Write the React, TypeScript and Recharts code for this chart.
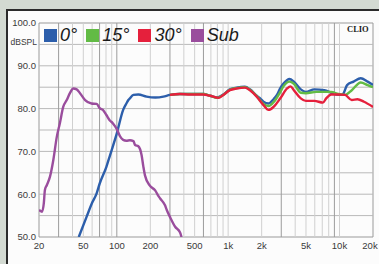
import {
  LineChart,
  Line,
  XAxis,
  YAxis,
  ReferenceLine,
  ReferenceArea,
} from "recharts";

// frequency response readings (Hz / dBSPL)
const subFreq = [20, 21.3, 22.1, 22.6, 23.5, 25.1, 26.9, 28.9, 30.8, 33, 35.5, 37.9, 40.6, 43.6, 46.7, 51.9, 59.2, 65.9, 70.2, 75, 80.6, 86.2, 92, 100, 107, 114, 122, 131, 141, 146, 156, 167, 173, 179, 198, 221, 236, 245, 271, 281, 300, 334, 369, 381];
const subDb = [56.3, 55.9, 57.9, 61.0, 62.1, 64.1, 68.0, 73.4, 76.6, 80.4, 82.0, 83.6, 84.7, 84.5, 83.6, 82.0, 81.2, 81.1, 80.1, 79.7, 78.5, 77.3, 76.6, 75.2, 73.5, 72.7, 72.5, 72.6, 72.4, 71.5, 71.2, 69.1, 66.5, 64.4, 62.0, 60.9, 59.6, 59.0, 57.4, 56.3, 54.7, 52.4, 51.1, 50.0];

const deg0Freq = [45.5, 53.5, 60, 65.9, 70.2, 80.6, 86.2, 100, 114, 122, 127, 131, 141, 156, 185, 222, 262, 300, 369, 451, 556, 600, 688, 793, 904, 1037, 1192, 1414, 1570, 1805, 1938, 2076, 2305, 2558, 2743, 2942, 3157, 3550, 3893, 4491, 4993, 5950, 7330, 8440, 9750, 10400, 10900, 11700, 13400, 15500, 17900, 20000];
const deg0Db = [50, 54.7, 58.0, 60.2, 62.5, 66.4, 68.8, 74.2, 79.7, 81.2, 82.0, 82.4, 83.2, 83.3, 82.8, 82.6, 82.8, 83.2, 83.4, 83.4, 83.4, 83.4, 83.0, 82.6, 83.3, 84.5, 84.9, 85.1, 84.5, 83.0, 82.4, 81.6, 81.2, 82.2, 83.2, 84.8, 85.9, 86.9, 86.3, 84.5, 83.9, 84.5, 84.3, 83.7, 83.2, 83.2, 83.6, 85.5, 86.3, 87.1, 86.3, 85.5];

const deg15Freq = [300, 369, 451, 556, 600, 688, 793, 904, 1037, 1192, 1414, 1570, 1805, 2076, 2305, 2558, 2942, 3157, 3550, 3893, 4491, 4993, 6200, 8440, 9750, 11200, 12900, 15500, 17900, 20000];
const deg15Db = [83.2, 83.4, 83.4, 83.4, 83.4, 83.0, 82.5, 83.2, 84.4, 84.8, 85.0, 84.4, 82.9, 81.1, 80.6, 81.5, 83.9, 85.3, 86.3, 85.8, 83.7, 83.6, 83.9, 83.9, 83.4, 83.2, 84.3, 86.1, 85.5, 85.0];

const deg30Freq = [300, 369, 455, 599, 688, 819, 904, 1037, 1192, 1414, 1570, 1805, 2076, 2305, 2558, 2942, 3383, 3634, 3893, 4491, 4993, 5950, 7100, 7600, 8440, 9750, 11200, 12900, 14500, 16600, 20000];
const deg30Db = [83.2, 83.4, 83.3, 83.3, 83.0, 82.5, 83.2, 84.3, 84.7, 84.9, 84.3, 82.8, 80.8, 79.7, 80.4, 82.4, 84.7, 85.2, 84.3, 82.4, 81.8, 81.8, 81.4, 82.4, 83.3, 83.3, 83.2, 82.0, 82.2, 81.6, 80.4];

const xTicks = [20, 50, 100, 200, 500, 1000, 2000, 5000, 10000, 20000];
const yTicks = [50, 60, 70, 80, 90, 100];
const yGrid = [55, 60, 65, 70, 75, 80, 85, 90, 95];
const yMinor = [51, 52, 53, 54, 56, 57, 58, 59, 61, 62, 63, 64, 66, 67, 68, 69, 71, 72, 73, 74, 76, 77, 78, 79, 81, 82, 83, 84, 86, 87, 88, 89, 91, 92, 93, 94, 96, 97, 98, 99];
const xGridLight = [40, 50, 60, 80, 90, 200, 400, 500, 700, 800, 900, 1000, 2000, 4000, 5000, 6000, 7000, 8000, 10000];
const xGridDark = [30, 70, 100, 300, 600, 3000, 9000];

const zip = (f: number[], d: number[]) => f.map((v, i) => ({ f: v, db: d[i] }));

const series = [
  { name: "0°", color: "#2c5eab", data: zip(deg0Freq, deg0Db) },
  { name: "15°", color: "#62bb45", data: zip(deg15Freq, deg15Db) },
  { name: "30°", color: "#e5203c", data: zip(deg30Freq, deg30Db) },
  { name: "Sub", color: "#9a4d9d", data: zip(subFreq, subDb) },
];

const fmtFreq = (v: number) => (v >= 1000 ? `${v / 1000}k` : `${v}`);
const tickStyle = { fill: "#3a3a3a", fontSize: 9.5, fontFamily: "Liberation Sans, Arial" };

// last label sits on the right edge, nudge it in so it stays readable
const FreqTick = ({ x, y, payload }: any) => {
  const last = payload.value === xTicks[xTicks.length - 1];
  return (
    <text
      x={x + (last ? -3 : 0)}
      y={y}
      dy="0.71em"
      textAnchor="middle"
      {...tickStyle}
    >
      {fmtFreq(payload.value)}
    </text>
  );
};

export default function App() {
  return (
    <div
      style={{
        position: "fixed",
        left: 0,
        top: 0,
        width: 379,
        height: 264,
        background: "#d3dad2",
        overflow: "hidden",
      }}
    >
      <div
        style={{
          position: "absolute",
          left: 6,
          top: 9,
          width: 400,
          height: 300,
          background: "#fcfcfc",
          borderLeft: "2px solid #2b2b2b",
          borderTop: "2px solid #2b2b2b",
        }}
      />
      <div style={{ position: "absolute", left: 0, top: 0 }}>
        <LineChart
          width={379}
          height={264}
          margin={{ top: 23, right: 6, bottom: 7, left: 4 }}
        >
          <XAxis
            dataKey="f"
            type="number"
            scale="log"
            domain={[20, 20000]}
            ticks={xTicks}
            allowDataOverflow
            axisLine={false}
            tickLine={false}
            tickSize={3}
            height={20}
            tick={<FreqTick />}
            interval={0}
          />
          <YAxis
            type="number"
            domain={[50, 100]}
            ticks={yTicks}
            tickFormatter={(v: number) => v.toFixed(1)}
            allowDataOverflow
            axisLine={false}
            tickLine={false}
            tickSize={1}
            tickMargin={2}
            width={35}
            tick={tickStyle}
            interval={0}
          />
          <YAxis
            yAxisId="minor"
            orientation="right"
            mirror
            type="number"
            domain={[50, 100]}
            ticks={yMinor}
            width={0}
            axisLine={false}
            tickSize={3}
            tickLine={{ stroke: "#b5b5b5" }}
            tick={() => <g />}
            interval={0}
          />

          {yGrid.map((y) => (
            <ReferenceLine key={`y${y}`} y={y} stroke="#b9b9b9" strokeWidth={1} />
          ))}
          {xGridLight.map((x) => (
            <ReferenceLine key={`xl${x}`} x={x} stroke="#d0d0d0" strokeWidth={1} />
          ))}
          {xGridDark.map((x) => (
            <ReferenceLine key={`xd${x}`} x={x} stroke="#9c9c9c" strokeWidth={1} />
          ))}
          <ReferenceArea
            x1={20}
            x2={20000}
            y1={50}
            y2={100}
            fill="none"
            stroke="#9a9a9a"
            strokeWidth={1}
          />

          {series.map((s) => (
            <Line
              key={s.name}
              data={s.data}
              dataKey="db"
              type="monotone"
              stroke={s.color}
              strokeWidth={2.4}
              dot={false}
              activeDot={false}
              isAnimationActive={false}
            />
          ))}
        </LineChart>
      </div>

      <div
        style={{
          position: "absolute",
          left: 2,
          top: 37,
          width: 35,
          textAlign: "right",
          fontFamily: "Liberation Sans, Arial",
          fontSize: 8.5,
          color: "#3a3a3a",
        }}
      >
        dBSPL
      </div>

      <div
        style={{
          position: "absolute",
          left: 44,
          top: 25,
          display: "flex",
          alignItems: "center",
          fontFamily: "Liberation Sans, Arial",
          fontStyle: "italic",
          fontSize: 18,
          color: "#1a1a1a",
        }}
      >
        {series.map((s) => (
          <div key={s.name} style={{ display: "flex", alignItems: "center", marginRight: 9 }}>
            <div style={{ width: 13, height: 13, background: s.color, marginRight: 3 }} />
            <span>{s.name}</span>
          </div>
        ))}
      </div>

      <div
        style={{
          position: "absolute",
          left: 347,
          top: 24,
          fontFamily: "Liberation Serif, serif",
          fontWeight: "bold",
          fontSize: 8.5,
          color: "#222",
        }}
      >
        CLIO
      </div>
    </div>
  );
}
